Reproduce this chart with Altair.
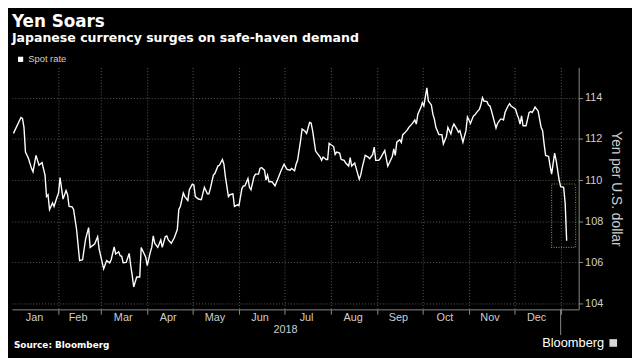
import altair as alt
import pandas as pd

# ---- data (day offset from 2018-01-01, USD/JPY) ----
days = [1, 6, 7, 8, 9, 11, 13, 14, 16, 17, 18, 20, 22, 23, 24, 25, 27, 28, 30, 31, 32, 34, 36, 37, 38, 40, 41, 43,
        45, 47, 48, 49, 51, 52, 55, 57, 58, 61, 63, 65, 66, 68, 69, 71, 72, 73, 74, 76,
        78, 79, 80, 81, 83, 85, 86, 88, 89, 90, 92, 93, 94, 95, 97, 99, 100, 102, 103, 104, 106, 108, 110, 111, 112,
        114, 115, 117, 118, 120, 121, 122, 124, 126, 128, 130, 131, 132, 134, 135, 137, 138, 140, 141, 142, 144, 145,
        147, 148, 150, 151, 153, 154, 155, 157, 158, 159, 161, 162, 164, 165, 166, 168, 169, 170, 171, 173, 175, 177,
        179, 181, 182, 183, 185, 186, 188, 189, 190, 192, 193, 195, 196, 198, 199, 200, 202, 203, 205, 206, 207, 209,
        210, 211, 212, 214, 215, 216, 218, 219, 221, 222, 224, 225, 226, 228, 229, 231, 232, 233, 235, 237, 238, 240,
        241, 242, 244, 245, 247, 248, 250, 251, 253, 254, 255, 256, 258, 259, 260, 261, 263, 264, 266, 268, 269, 270,
        272, 273, 274, 276, 277, 279, 280, 281, 282, 284, 286, 287, 289, 290, 292, 293, 294, 296, 297, 298, 299, 300,
        302, 303, 304, 305, 307, 308, 309, 311, 312, 313, 314, 316, 317, 318, 319, 321, 322, 323, 325, 326, 327, 328,
        330, 331, 332, 333, 335, 336, 337, 338, 339, 340, 342, 344, 345, 346, 347, 348, 350, 351, 352, 353, 354, 355,
        357, 358, 359, 361, 362, 363, 364, 365, 367, 368, 369]
rates = [112.27, 113.04, 113.0, 112.56, 111.36, 111.05, 110.57, 110.4, 111.2, 110.96, 110.72, 110.85, 110.24, 109.2,
         109.29, 108.57, 108.89, 108.72, 109.18, 109.37, 110.12, 109.08, 109.49, 109.29, 108.72, 108.7, 108.57, 107.6,
         106.09, 106.13, 106.65, 107.13, 107.69, 106.73, 106.89, 107.25, 106.65, 105.69, 106.09, 105.98, 106.13,
         106.76, 106.41, 106.52, 106.33, 106.3, 105.98, 106.0,
         106.44, 105.85, 105.37, 104.81, 105.29, 105.29, 106.73, 106.41, 106.25, 105.85, 106.49, 106.73, 107.29,
         106.93, 106.73, 107.09, 106.73, 107.25, 107.29, 107.09, 106.93, 107.2, 107.6, 108.57, 108.72,
         109.37, 109.2, 109.01, 109.53, 109.8, 109.76, 109.2, 109.08, 109.05, 109.65, 109.33, 109.33, 109.6, 110.24,
         110.32, 110.68, 110.72, 111.0, 110.77, 110.16, 109.2, 109.29,
         109.33, 108.72, 108.8, 108.76, 109.6, 109.72, 109.72, 110.08, 109.65, 109.53, 110.16, 110.29, 110.29, 110.57,
         110.61, 110.48, 110.0, 110.24, 109.92, 109.92, 109.72, 110.08,
         110.45, 110.77, 110.64, 110.52, 110.48, 110.57, 110.45, 110.77, 110.96, 111.92, 112.48, 112.37, 112.27, 112.8,
         112.77, 112.4, 111.41, 111.31, 111.12, 110.96, 111.12, 111.0,
         111.0, 111.79, 111.73, 111.63, 111.25, 111.36, 111.31, 111.0, 110.96, 110.83, 110.68, 111.09, 110.68, 110.83,
         110.57, 110.04, 110.24, 110.61, 111.2, 111.12, 111.04, 111.25,
         111.6, 110.96, 110.96, 111.04, 111.31, 111.44, 110.68, 110.83, 111.15, 111.52, 111.2, 111.84, 111.96, 111.83,
         112.21, 112.27, 112.44, 112.56, 112.72, 112.92, 112.72, 113.2,
         113.52, 113.76, 113.6, 114.48, 113.84, 113.65, 113.2, 112.96, 112.56, 112.21, 112.21, 111.76, 112.12, 112.56,
         112.24, 112.56, 112.72, 112.48, 112.32, 112.4, 112.12, 111.84,
         112.4, 113.07, 112.92, 112.75, 113.12, 113.17, 113.28, 113.44, 113.68, 114.0, 113.84, 113.81, 113.65, 113.6,
         113.36, 112.8, 112.53, 112.75, 112.96, 112.96, 112.92, 113.28,
         113.6, 113.71, 113.6, 113.55, 113.44, 113.2, 113.01, 112.72, 113.12, 112.64, 112.64, 113.28, 113.33, 113.28,
         113.4, 113.55, 113.36, 112.96, 112.56, 112.4, 111.76, 111.2,
         111.15, 110.68, 110.29, 111.31, 110.96, 110.48, 110.0, 109.68, 109.65, 108.89, 107.05]

month_names = ["Jan", "Feb", "Mar", "Apr", "May", "Jun", "Jul", "Aug", "Sep", "Oct", "Nov", "Dec"]
month_mids = ["2018-01-16", "2018-02-14", "2018-03-16", "2018-04-15", "2018-05-16", "2018-06-15",
              "2018-07-16", "2018-08-16", "2018-09-15", "2018-10-16", "2018-11-15", "2018-12-16"]
month_bounds = ["2018-02-01", "2018-03-01", "2018-04-01", "2018-05-01", "2018-06-01", "2018-07-01",
                "2018-08-01", "2018-09-01", "2018-10-01", "2018-11-01", "2018-12-01", "2019-01-01"]
year_label = ["2018"]
year_label_date = ["2018-07-02"]
year_end = ["2019-01-01"]
y_ticks = [104, 106, 108, 110, 112, 114]
y_domain = [103.72, 115.47]
x_domain = ["2018-01-01", "2019-01-13"]
box_dates = ["2018-12-26", "2019-01-11"]
box_rates = [106.73, 109.81]

W, H = 574, 245
GRID = "#5a5a5a"
AX = "#8a8a8a"
LBL = "#cfcfcf"


def dt(s):
    t = pd.Timestamp(s)
    return alt.DateTime(year=t.year, month=t.month, date=t.day)


df = pd.DataFrame({
    "date": pd.Timestamp("2018-01-01") + pd.to_timedelta(days, unit="D"),
    "rate": rates,
    "series": "Spot rate",
})

x_scale = alt.Scale(domain=[dt(s) for s in x_domain])
y_scale = alt.Scale(domain=y_domain, nice=False, zero=False)
x_axis = alt.Axis(values=[dt(s) for s in month_bounds], labels=False, ticks=True, tickSize=5,
                  tickColor=AX, domainColor=AX, grid=True, gridColor=GRID, gridDash=[1, 2],
                  title=None)
y_axis = alt.Axis(orient="right", values=y_ticks, tickSize=4, tickColor=AX, domainColor=AX,
                  grid=True, gridColor=GRID, gridDash=[1, 2], labelColor=LBL, labelFontSize=11,
                  labelFont="Liberation Sans", labelPadding=2, title="Yen per U.S. dollar",
                  titleColor=LBL, titleFontSize=14, titleFont="Liberation Sans",
                  titleFontWeight="normal", titlePadding=6)

line = alt.Chart(df).mark_line(strokeWidth=1.4).encode(
    x=alt.X("date:T", scale=x_scale, axis=x_axis),
    y=alt.Y("rate:Q", scale=y_scale, axis=y_axis),
    color=alt.Color("series:N", scale=alt.Scale(range=["white"]),
                    legend=alt.Legend(orient="none", legendX=4, legendY=-13, title=None,
                                      symbolType="square", symbolSize=28, symbolFillColor="white",
                                      symbolStrokeWidth=0, labelColor=LBL, labelFontSize=9.5,
                                      labelFont="Liberation Sans", padding=0, symbolOffset=0,
                                      labelOffset=3)),
)

box_df = pd.DataFrame({"start": [box_dates[0]], "end": [box_dates[1]],
                       "low": [box_rates[0]], "high": [box_rates[1]]})
box = alt.Chart(box_df).mark_rect(fillOpacity=0, stroke="#7d8f2e", strokeWidth=1.2,
                                  strokeDash=[1, 1.5]).encode(
    x=alt.X("start:T", scale=x_scale, axis=x_axis), x2="end:T",
    y=alt.Y("low:Q", scale=y_scale, axis=y_axis), y2="high:Q")

months_df = pd.DataFrame({"mid": month_mids, "name": month_names})
month_text = alt.Chart(months_df).mark_text(color=LBL, fontSize=11, font="Liberation Sans",
                                            baseline="middle").encode(
    x=alt.X("mid:T", scale=x_scale, axis=x_axis), y=alt.value(H + 9), text="name:N")

year_df = pd.DataFrame({"d": year_label_date, "t": year_label})
year_text = alt.Chart(year_df).mark_text(color=LBL, fontSize=11, font="Liberation Sans",
                                         baseline="middle").encode(
    x=alt.X("d:T", scale=x_scale, axis=x_axis), y=alt.value(H + 21), text="t:N")

yend_df = pd.DataFrame({"d": year_end})
year_rule = alt.Chart(yend_df).mark_rule(color=AX, strokeWidth=1).encode(
    x=alt.X("d:T", scale=x_scale, axis=x_axis), y=alt.value(H), y2=alt.value(H + 26))

title = alt.Chart(pd.DataFrame({"t": ["Yen Soars"]})).mark_text(
    color="white", fontSize=17, fontWeight="bold", font="DejaVu Sans", align="left",
    baseline="alphabetic").encode(x=alt.value(0), y=alt.value(-41), text="t:N")
subtitle = alt.Chart(pd.DataFrame({"t": ["Japanese currency surges on safe-haven demand"]})).mark_text(
    color="white", fontSize=12.7, fontWeight="bold", font="DejaVu Sans", align="left",
    baseline="alphabetic").encode(x=alt.value(0), y=alt.value(-26), text="t:N")
source = alt.Chart(pd.DataFrame({"t": ["Source: Bloomberg"]})).mark_text(
    color="white", fontSize=9, fontWeight="bold", font="DejaVu Sans", align="left",
    baseline="middle").encode(x=alt.value(2), y=alt.value(H + 36), text="t:N")
brand = alt.Chart(pd.DataFrame({"t": ["Bloomberg"]})).mark_text(
    color="white", fontSize=13, font="Liberation Sans", align="left",
    baseline="middle").encode(x=alt.value(537), y=alt.value(H + 34), text="t:N")
brand_icon = alt.Chart(pd.DataFrame({"t": ["icon"]})).mark_square(
    color="#d8d8d8", size=60, opacity=1).encode(x=alt.value(609), y=alt.value(H + 34))

chart = alt.layer(
    line, box, month_text, year_text, year_rule, title, subtitle, source, brand, brand_icon
).properties(
    width=W, height=H, background="black",
    padding={"left": 4, "top": 58, "right": 54, "bottom": 47},
    autosize=alt.AutoSizeParams(type="none"),
).configure_view(stroke=None)

chart.save("out.html", embed_options={"renderer": "svg", "actions": False})
